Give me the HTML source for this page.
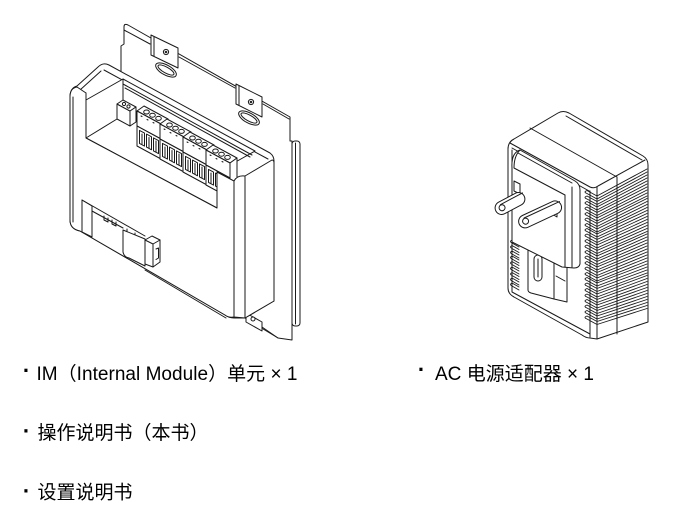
<!DOCTYPE html>
<html><head><meta charset="utf-8">
<style>html,body{margin:0;padding:0;background:#fff;width:700px;height:512px;overflow:hidden}svg{display:block}</style>
</head><body>
<svg width="700" height="512" viewBox="0 0 700 512" xmlns="http://www.w3.org/2000/svg">
<defs>
<g id="blk">
<path d="M137,111 L144,106 L168,119 L161,124 Z"/>
<path d="M161,124 L168,119 L168,154 L161,159 Z"/>
<path d="M137,111 L161,124 L161,139 L137,126 Z"/>
<path d="M137,126 L161,139 L161,159 L137,146 Z"/>
<path d="M139.5,130.4 L144.5,133.1 L144.5,146.1 L139.5,143.4 Z M146.5,134.1 L151.5,136.8 L151.5,149.8 L146.5,147.1 Z M153.5,137.9 L158.5,140.6 L158.5,153.6 L153.5,150.9 Z"/>
<path fill="none" d="M142,134 L142,144 M149,137.5 L149,148 M156,141 L156,152"/>
<ellipse cx="146.5" cy="112" rx="2.8" ry="2"/>
<ellipse cx="152.5" cy="115.2" rx="2.8" ry="2"/>
<ellipse cx="158.5" cy="118.4" rx="2.8" ry="2"/>
<path fill="none" d="M141,116 l1,0.5 M147,119.5 l1,0.5 M153,122.5 l1,0.5"/>
</g>
</defs>

<g fill="#fff" stroke="#1a1a1a" stroke-width="1" stroke-linejoin="round" stroke-linecap="round">
<!-- ===== LEFT DEVICE ===== -->
<!-- bracket -->
<path d="M121,72 L121,46 L124,44 L124,27 Q124,23 128,25 L290,117 L290,141 L292,141 L292,340 L278,338 L245,318 Z"/>
<path fill="none" d="M124,30 L150,44 M179,57 L235,88 M263,104 L289,119"/>
<path d="M151,35 L178,48 L178,68 L151,55 Z"/>
<path fill="none" d="M154,37 L154,56"/>
<circle cx="166" cy="52" r="2.6"/><circle cx="166" cy="52" r="0.8"/>
<ellipse cx="166" cy="70" rx="11.5" ry="5" transform="rotate(29 166 70)"/>
<ellipse cx="166" cy="70" rx="9" ry="3" transform="rotate(29 166 70)"/>
<path d="M236,84 L262,97 L262,117 L236,104 Z"/>
<path fill="none" d="M239,86 L239,105"/>
<circle cx="251" cy="102" r="2.6"/><circle cx="251" cy="102" r="0.8"/>
<ellipse cx="249" cy="118" rx="11.5" ry="5" transform="rotate(29 249 118)"/>
<ellipse cx="249" cy="118" rx="9" ry="3" transform="rotate(29 249 118)"/>
<rect x="292" y="141" width="8" height="185" rx="3"/>
<path fill="none" d="M295.5,143 L295.5,324"/>
<path d="M246,313 L262,322 L262,331 L246,322 Z"/>
<circle cx="253" cy="319" r="2"/>
<path fill="none" d="M262,327 L278,338"/>

<!-- module silhouette -->
<path d="M70,97 Q70,88 77,86 L98,67 Q103,62 109,65 L270,153 Q274,156 274,161 L274,301 L245,318 L234,318 Q229,318 225,315 L80,231 Q70,229 70,220 Z"/>
<path fill="none" d="M104,70 L268,159 M80,90 L101,71"/>
<!-- cavity -->
<path d="M86,93 L86,138 L217,208 L217,172 L232,164 L255,151 L123,79 L86,100 Z"/>
<path fill="none" d="M123,84 L252,155 M123,79 L123,100 M86,138 L117,119 M125,88 L250,157"/>
<!-- 2-pin block -->
<path d="M117,104 L130,111 L130,126 L117,119 Z"/>
<path d="M117,104 L123,100 L136,107 L130,111 Z"/>
<path d="M130,111 L136,107 L136,122 L130,126 Z"/>
<circle cx="124" cy="104" r="1.6"/><circle cx="128.5" cy="106.5" r="1.6"/>
<!-- terminal blocks -->
<use href="#blk"/>
<use href="#blk" x="23" y="13"/>
<use href="#blk" x="46" y="26"/>
<use href="#blk" x="69" y="39"/>
<!-- front face -->
<path d="M70,97 Q70,88 77,87 L86,93 L86,138 L217,208 L217,172 L234,181 L234,317 Q229,318 225,315 L80,231 Q70,229 70,220 Z"/>
<path d="M234,181 Q237,175 245,176 L245,318 L234,317 Z"/>
<path d="M245,176 L272,160 Q274,160 274,163 L274,301 L245,318 Z"/>
<path fill="none" d="M73,97 L73,222"/>
<!-- bottom connector -->
<path d="M82,200 L92,206 L92,237 L82,232 Z"/>
<path fill="none" d="M82,200 L145,236 M92,211 L123,228"/>
<path fill="none" d="M104,216 l0,4 l4,2 l0,-4 M112,220 l0,4 l4,2 l0,-4 M127,229 l0,4 l8,4 l0,-4"/>
<path d="M123,230 L123,252 Q124,257 129,258 L145,266 L145,239 Z"/>
<path d="M145,240 L152,236 L160,240 L160,262 L153,267 L145,264 Z"/>
<path fill="none" d="M145,240 L153,244 L153,267 M153,244 L160,240 M156,249 L158.5,248 L158.5,258 L156,259.5"/>
<path fill="none" d="M145,270 L226,318"/>

<!-- ===== RIGHT DEVICE ===== -->
<path d="M508,149 Q508,142 514,139 L558,113 Q563,110 569,113 L643,156 Q648,159 648,165 L648,322 L597,339 L590,338 Q586,338 582,335 L514,297 Q508,294 508,288 Z"/>
<path fill="none" d="M510,143 L590,187 Q594,189 598,186 L645,160 M512,148 L590,191.5 M566,116 L642,160"/>
<path fill="none" d="M530,128 L617,177"/>
<path fill="none" d="M512,150 L512,292 M512,292 L590,334 M590,191 L590,337 M597,187 L597,339"/>
<!-- fins -->
<g fill="none" stroke-width="0.9">
<path d="M647,169 L597,196 L587,190.5 Q583,192 587,193.5 L597,199 L647,172"/>
<path d="M647,175 L597,201.5 L587,196 Q583,197.5 587,199 L597,204.5 L647,178"/>
<path d="M647,181 L597,207 L587,201.5 Q583,203 587,204.5 L597,210 L647,184"/>
<path d="M647,187 L597,212.5 L587,207 Q583,208.5 587,210 L597,215.5 L647,190"/>
<path d="M647,193 L597,218 L587,212.5 Q583,214 587,215.5 L597,221 L647,196"/>
<path d="M647,198.5 L597,223.5 L587,218 Q583,219.5 587,221 L597,226.5 L647,201.5"/>
<path d="M647,204.5 L597,229 L587,223.5 Q583,225 587,226.5 L597,232 L647,207.5"/>
<path d="M647,210.5 L597,234 L587,228.5 Q583,230 587,231.5 L597,237 L647,213.5"/>
<path d="M647,216.5 L597,239.5 L587,234 Q583,235.5 587,237 L597,242.5 L647,219.5"/>
<path d="M647,222.5 L597,245 L587,239.5 Q583,241 587,242.5 L597,248 L647,225.5"/>
<path d="M647,228.5 L597,250.5 L587,245 Q583,246.5 587,248 L597,253.5 L647,231.5"/>
<path d="M647,234 L597,256 L587,250.5 Q583,252 587,253.5 L597,259 L647,237"/>
<path d="M647,240 L597,261.5 L587,256 Q583,257.5 587,259 L597,264.5 L647,243"/>
<path d="M647,246 L597,267 L587,261.5 Q583,263 587,264.5 L597,270 L647,249"/>
<path d="M647,252 L597,272.5 L587,267 Q583,268.5 587,270 L597,275.5 L647,255"/>
<path d="M647,258 L597,278 L587,272.5 Q583,274 587,275.5 L597,281 L647,261"/>
<path d="M647,264 L597,283 L587,277.5 Q583,279 587,280.5 L597,286 L647,267"/>
<path d="M647,270 L597,288.5 L587,283 Q583,284.5 587,286 L597,291.5 L647,273"/>
<path d="M647,275.5 L597,294 L587,288.5 Q583,290 587,291.5 L597,297 L647,278.5"/>
<path d="M647,281.5 L597,299.5 L587,294 Q583,295.5 587,297 L597,302.5 L647,284.5"/>
<path d="M647,287.5 L597,305 L587,299.5 Q583,301 587,302.5 L597,308 L647,290.5"/>
<path d="M647,293.5 L597,310.5 L587,305 Q583,306.5 587,308 L597,313.5 L647,296.5"/>
<path d="M647,299.5 L597,316 L587,310.5 Q583,312 587,313.5 L597,319 L647,302.5"/>
<path d="M647,305.5 L597,321.5 L587,316 Q583,317.5 587,319 L597,324.5 L647,308.5"/>
</g>
<path fill="none" d="M617,177 L617,334"/>
<!-- lower-left slots -->
<g fill="none" stroke-width="0.9">
<path d="M519,244 L512,240 Q509,241.5 512,243 L519,247"/>
<path d="M519,249.5 L512,245.5 Q509,247 512,248.5 L519,252.5"/>
<path d="M519,255 L512,251 Q509,252.5 512,254 L519,258"/>
<path d="M519,260 L512,256 Q509,257.5 512,259 L519,263"/>
<path d="M519,265.5 L512,261.5 Q509,263 512,264.5 L519,268.5"/>
<path d="M519,271 L512,267 Q509,268.5 512,270 L519,274"/>
<path d="M519,276.5 L512,272.5 Q509,274 512,275.5 L519,279.5"/>
<path d="M519,282 L512,278 Q509,279.5 512,281 L519,285"/>
<path d="M519,287 L512,283 Q509,284.5 512,286 L519,290"/>
</g>
<!-- receptacle -->
<path d="M528,246 L528,290 Q528,292 531,293 L554,299 L554,258 Z"/>
<path d="M554,258 L567,264 L567,302 L554,299 Z"/>
<rect x="534" y="255" width="8" height="26" rx="4"/>
<path fill="none" d="M538,259 L538,277 M556,276 L565,281"/>
<!-- plug plate -->
<path d="M512,168 Q511,153 520,150 L575,181 Q580,184 580,190 L580,264 Q579,268 574,268 L562,267 L512,242 Z"/>
<path fill="none" d="M514,168 L565,195 M518,153 L572,183 M565,195 L565,267 M572,187 L572,267 M520,150 Q514,156 514,168"/>
<path d="M514,181 L520,184 L520,194 L514,191 Z"/>
<path d="M552,206 L557,209 L557,217 L552,214 Z"/>
<!-- prongs -->
<g transform="rotate(-28 510 203.5)">
<rect x="494" y="197" width="32" height="13" rx="6.5"/>
<path fill="none" d="M501,200 L526,200"/>
<circle cx="501" cy="203.5" r="3"/>
</g>
<g transform="rotate(-25 541 214)">
<rect x="517" y="207.5" width="46" height="13" rx="6.5"/>
<path fill="none" d="M524,210.5 L563,210.5"/>
<circle cx="524" cy="214" r="3"/>
</g>
</g>

<!-- bullets -->
<g font-family="'Liberation Sans',sans-serif" font-weight="bold" font-size="22" text-anchor="middle" fill="#000">
<text x="26.5" y="377.8">·</text>
<text x="26.5" y="438.3">·</text>
<text x="26.5" y="498.3">·</text>
<text x="421.5" y="376.8">·</text>
</g>
<!-- labels -->
<g font-family="'Liberation Sans','Noto Sans CJK SC',sans-serif" font-size="19" fill="#000">
<text x="36.5" y="380" textLength="261" lengthAdjust="spacing">IM（Internal Module）单元 × 1</text>
<text x="435" y="380" textLength="159" lengthAdjust="spacing">AC 电源适配器 × 1</text>
<text x="37.5" y="439">操作说明书（本书）</text>
<text x="37.5" y="498.5">设置说明书</text>
</g>
</svg>
</body></html>
